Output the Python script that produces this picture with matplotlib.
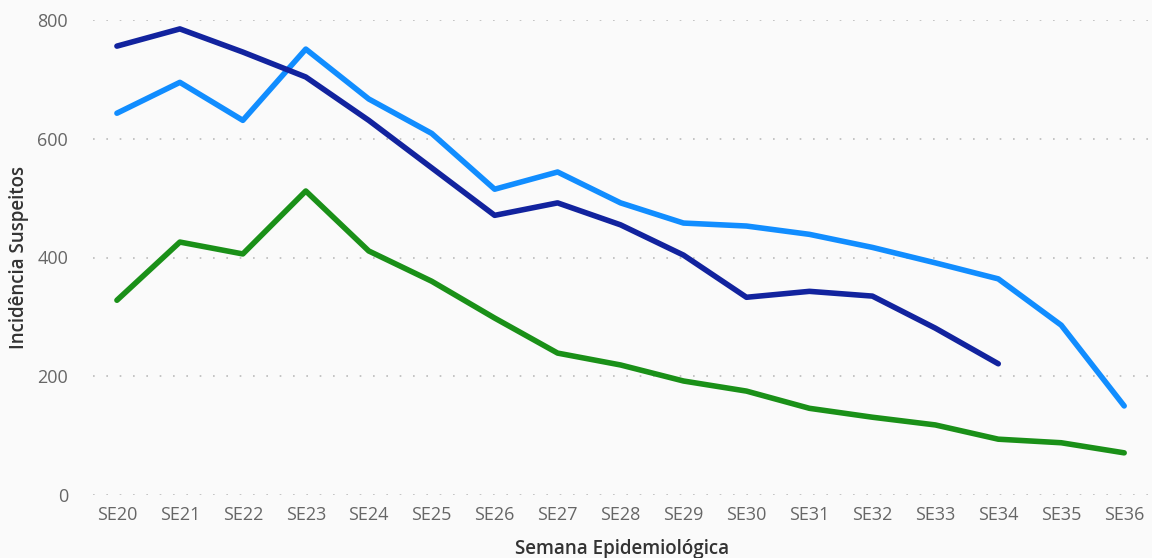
import numpy as np
import matplotlib
matplotlib.use("Agg")
import matplotlib.pyplot as plt

semanas = [f"SE{n}" for n in range(20, 37)]

# Series
serie_escura = [756, 785, 746, 704, 631, 551, 471, 492, 455, 404, 333, 343, 335, 281, 221]
serie_clara = [643, 695, 631, 751, 667, 609, 515, 544, 492, 458, 453, 439, 417, 391, 364, 286, 150]
serie_verde = [328, 426, 406, 512, 411, 360, 298, 239, 219, 192, 175, 146, 131, 118, 94, 88, 71]

y_ticks = [0, 200, 400, 600, 800]

plt.rcParams["font.family"] = ["Open Sans", "DejaVu Sans"]

fig = plt.figure(figsize=(11.52, 5.58), dpi=100)
fig.patch.set_facecolor("#fafafa")
ax = fig.add_axes([93 / 1152, 63 / 558, (1150 - 93) / 1152, 475 / 558])
ax.set_facecolor("#fafafa")

x = np.arange(len(semanas))
ax.plot(x, serie_clara, color="#118dff", lw=4, solid_capstyle="round", solid_joinstyle="round", zorder=3)
ax.plot(x[:len(serie_escura)], serie_escura, color="#12239e", lw=4, solid_capstyle="round", solid_joinstyle="round", zorder=4)
ax.plot(x, serie_verde, color="#1a9018", lw=4, solid_capstyle="round", solid_joinstyle="round", zorder=3)

ax.set_xlim(-0.38, 16.41)
ax.set_ylim(0, 800)
ax.set_xticks(x)
ax.set_xticklabels(semanas)
ax.set_yticks(y_ticks)
ax.yaxis.grid(True, color="#bbbbbb", linestyle=(0, (1, 7)), lw=1.2)
ax.tick_params(axis="both", length=0, labelsize=13, labelcolor="#666666")
ax.tick_params(axis="y", pad=18)
ax.tick_params(axis="x", pad=8)
for s in ax.spines.values():
    s.set_visible(False)

ax.set_ylabel("Incidência Suspeitos", fontsize=13.5, color="#333333", fontweight="semibold", labelpad=6)
fig.text(622 / 1152, 1 - 549 / 558, "Semana Epidemiológica", fontsize=13.5,
         color="#333333", fontweight="semibold", ha="center", va="center")

fig.savefig("out.png", dpi=100, facecolor=fig.get_facecolor())
